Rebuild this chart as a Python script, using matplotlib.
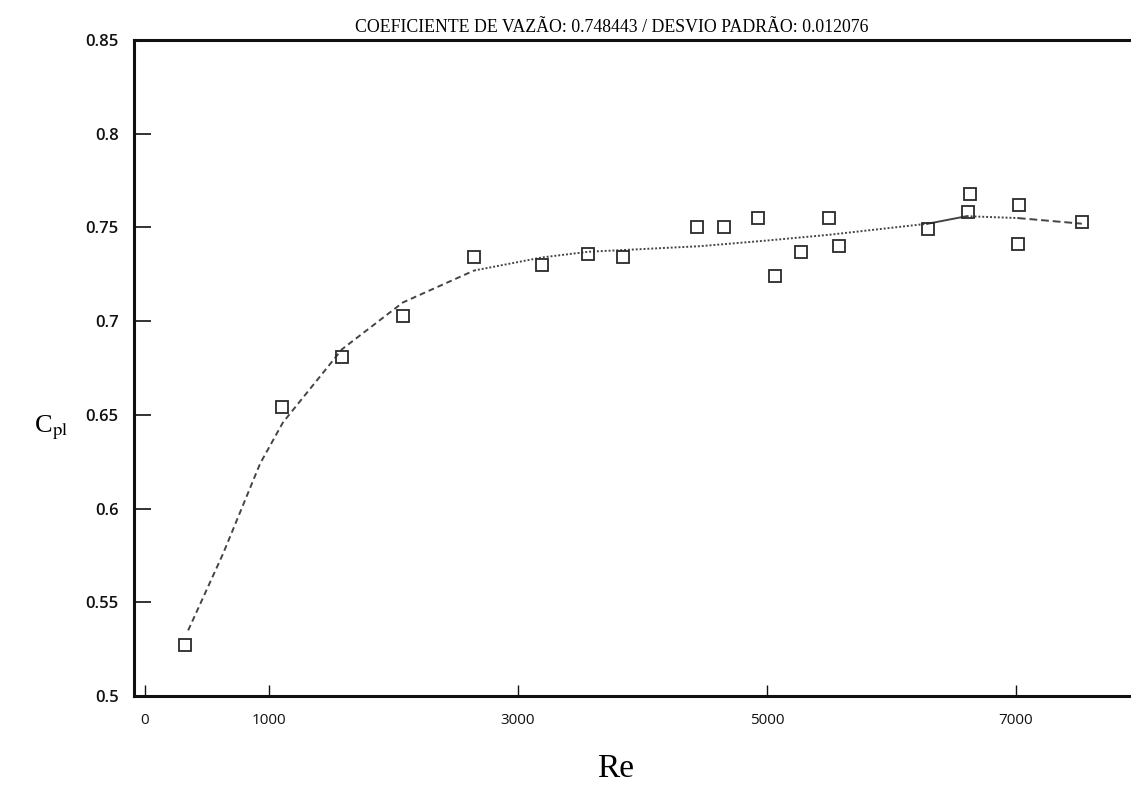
import matplotlib.pyplot as plt
from matplotlib.ticker import FixedLocator, FixedFormatter

# medições (Re, Cpl)
re_pts = [325, 1104, 1586, 2076, 2647, 3193, 3562, 3843, 4438, 4655, 4928,
          5064, 5273, 5498, 5578, 6293, 6631, 6614, 7024, 7016, 7530]
cpl_pts = [0.527, 0.654, 0.681, 0.703, 0.734, 0.730, 0.736, 0.734, 0.750, 0.750, 0.755,
           0.724, 0.737, 0.755, 0.740, 0.749, 0.768, 0.758, 0.762, 0.741, 0.753]

# curva ajustada
curve_re = [350, 631, 928, 1112, 1586, 2076, 2647, 3193, 3562, 4462, 4998, 5488,
            6293, 6605, 7016, 7530]
curve_cpl = [0.535, 0.576, 0.624, 0.646, 0.685, 0.710, 0.727, 0.734, 0.737, 0.740,
             0.743, 0.746, 0.752, 0.756, 0.755, 0.752]

xticks = [0, 1000, 3000, 5000, 7000]
yticks = [0.5, 0.55, 0.6, 0.65, 0.7, 0.75, 0.8, 0.85]
ytick_labels = ['0.5', '0.55', '0.6', '0.65', '0.7', '0.75', '0.8', '0.85']

titulo = 'COEFICIENTE DE VAZÃO: 0.748443 / DESVIO PADRÃO: 0.012076'

plt.rcParams['mathtext.fontset'] = 'stix'

fig = plt.figure(figsize=(11.31, 8.02), dpi=100)
ax = fig.add_axes([0.1185, 0.1322, 0.8815, 0.8179])

# trechos da curva com tracejados diferentes
trechos = [(0, 7, (0, (3, 2))), (6, 13, (0, (1, 1))), (12, 14, '-'),
           (13, 15, (0, (1, 1))), (14, 16, (0, (4, 2)))]
for a, b, ls in trechos:
    ax.plot(curve_re[a:b], curve_cpl[a:b], color='#444444', lw=1.4, linestyle=ls)

ax.plot(re_pts, cpl_pts, 's', ms=8.5, mfc='none', mec='#2a2a2a', mew=1.3)

ax.set_xlim(-85, 7925)
ax.set_ylim(0.5, 0.85)

ax.xaxis.set_major_locator(FixedLocator(xticks))
ax.xaxis.set_major_formatter(FixedFormatter([str(t) for t in xticks]))
ax.yaxis.set_major_locator(FixedLocator(yticks))
ax.yaxis.set_major_formatter(FixedFormatter(ytick_labels))

ax.tick_params(axis='y', direction='in', length=12, width=1.2, pad=11,
               labelsize=12, colors='#111111')
ax.tick_params(axis='x', direction='in', length=8, width=1.0, pad=12,
               labelsize=11, colors='#111111')
for lab in ax.get_xticklabels():
    lab.set_family('Open Sans')
for lab in ax.get_yticklabels():
    lab.set_family('Open Sans')
    lab.set_weight('semibold')

for s in ['left', 'bottom', 'top']:
    ax.spines[s].set_linewidth(2.2)
    ax.spines[s].set_color('#111111')
ax.spines['right'].set_visible(False)

fig.text(0.541, 0.966, titulo, ha='center', va='center',
         family='Liberation Serif', fontsize=12.8)
fig.text(0.544, 0.042, 'Re', ha='center', va='center',
         family='Liberation Serif', fontsize=24)
fig.text(0.045, 0.466, r'C$_{\mathrm{pl}}$', ha='center', va='center',
         family='Liberation Serif', fontsize=19)

fig.savefig('out.png', dpi=100)
